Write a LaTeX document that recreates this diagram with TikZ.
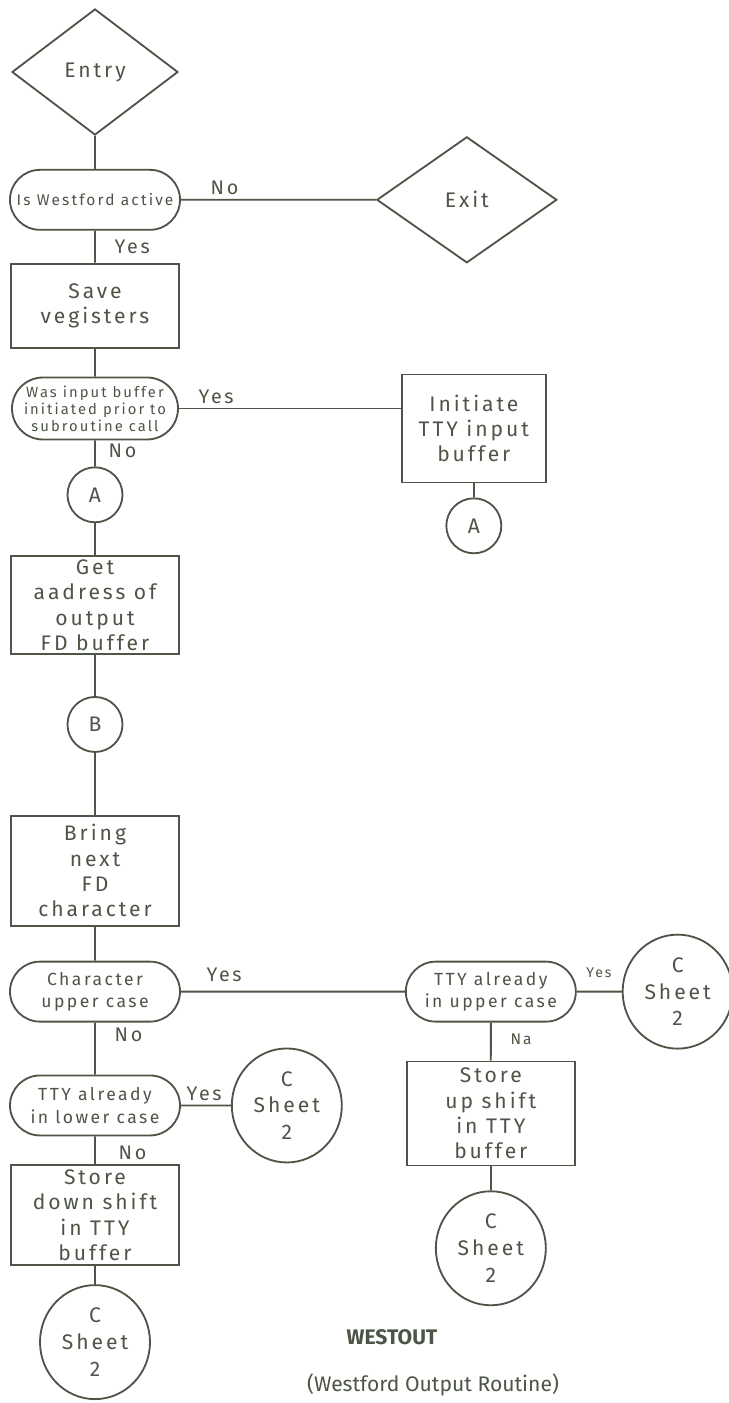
\documentclass[tikz,border=0pt]{standalone}
\usepackage{fontspec}
\setmainfont{Fira Sans}
\newfontfamily\handfont{Fira Sans}[LetterSpace=14]
\usetikzlibrary{positioning, shapes.geometric, shapes.misc}
\definecolor{Ink}{HTML}{4D5546}
\tikzset{
  procbox/.style={rectangle, draw=Ink, line width=1.3pt, minimum width=4.2cm,
                  font=\handfont\fontsize{15}{18}\selectfont, text=Ink, align=center, inner sep=0pt},
  askbox/.style={rounded rectangle, draw=Ink, line width=1.3pt, minimum width=4.25cm,
                 minimum height=1.5cm, font=\handfont\fontsize{12.5}{16}\selectfont, text=Ink,
                 align=center, inner sep=0pt},
  endbox/.style={diamond, draw=Ink, line width=1.3pt, minimum width=4.15cm, minimum height=3.15cm,
                 font=\handfont\fontsize{15}{18}\selectfont, text=Ink, inner sep=0pt},
  joint/.style={circle, draw=Ink, line width=1.3pt, minimum size=1.375cm, inner sep=0pt,
                font=\handfont\fontsize{15}{18}\selectfont, text=Ink},
  sheetjoint/.style={ellipse, draw=Ink, line width=1.3pt, minimum width=2.75cm, minimum height=2.85cm,
                     inner sep=0pt, align=center, font=\handfont\fontsize{15}{19}\selectfont, text=Ink},
  tag/.style={font=\handfont\fontsize{14}{16}\selectfont, text=Ink, inner sep=1pt},
}

\begin{document}
\begin{tikzpicture}[
        link/.style={draw=Ink, line width=1.3pt}
      ]
        \useasboundingbox (0,0) rectangle (18.2,-35.075);
        % main column
        \node[endbox] (entry) at (2.375,-1.8) {Entry};
        \node[askbox, font=\handfont\fontsize{11}{14}\selectfont, below=0.825cm of entry] (active) {Is Westford active};
        \node[procbox, minimum height=2.1cm, below=0.8cm of active] (save) {Save\\vegisters};
        \node[askbox, font=\handfont\fontsize{10.5}{12}\selectfont, minimum width=4.15cm, minimum height=1.55cm,
              below=0.7cm of save] (wasinit) {Was input buffer\\initiated prior to\\subroutine call};
        \node[joint, below=0.65cm of wasinit] (conA) {A};
        \node[procbox, minimum height=2.45cm, below=0.8cm of conA] (getaddr) {Get\\aadress of\\output\\FD buffer};
        \node[joint, below=1.025cm of getaddr] (conB) {B};
        \node[procbox, minimum height=2.75cm, below=1.55cm of conB] (bring) {Bring\\next\\FD\\character};
        \node[askbox, below=0.85cm of bring] (upper) {Character\\upper case};
        \node[askbox, below=1.3cm of upper] (lower) {TTY already\\in lower case};
        \node[procbox, minimum height=2.5cm, below=0.7cm of lower] (storedown) {Store\\down shift\\in TTY\\buffer};
        \node[sheetjoint, below=0.45cm of storedown] (sheetD) {C\\Sheet\\2};
        % side branches
        \node[endbox, minimum width=4.5cm, right=4.875cm of active] (exit) {Exit};
        \node[procbox, minimum width=3.6cm, minimum height=2.7cm, right=5.55cm of wasinit, yshift=-0.5cm] (initiate)
             {Initiate\\TTY input\\buffer};
        \node[joint, below=0.35cm of initiate] (conA2) {A};
        \node[askbox, right=5.6cm of upper] (upper2) {TTY already\\in upper case};
        \node[sheetjoint, right=1.125cm of upper2] (sheetA) {C\\Sheet\\2};
        \node[sheetjoint, right=1.25cm of lower] (sheetB) {C\\Sheet\\2};
        \node[procbox, minimum height=2.6cm, below=0.95cm of upper2] (storeup) {Store\\up shift\\in TTY\\buffer};
        \node[sheetjoint, below=0.6cm of storeup] (sheetC) {C\\Sheet\\2};
        % branch labels
        \node[tag, anchor=south west] (noexit) at ([xshift=0.7cm,yshift=0.08cm]active.east) {No};
        \node[tag, anchor=north west] (yessave) at ([xshift=0.45cm,yshift=-0.2cm]active.south) {Yes};
        \node[tag, anchor=south west] (yesinit) at ([xshift=0.45cm,yshift=0.08cm]wasinit.east) {Yes};
        \node[tag, anchor=north west] (noinit) at ([xshift=0.3cm,yshift=-0.05cm]wasinit.south) {No};
        \node[tag, anchor=south west] (yesupper) at ([xshift=0.6cm,yshift=0.2cm]upper.east) {Yes};
        \node[tag, anchor=north west] (noupper) at ([xshift=0.45cm,yshift=-0.1cm]upper.south) {No};
        \node[tag, font=\handfont\fontsize{10}{12}\selectfont, anchor=south west] (yesup2) at ([xshift=0.2cm,yshift=0.3cm]upper2.east) {Yes};
        \node[tag, font=\handfont\fontsize{11}{12}\selectfont, anchor=north west] (noup2) at ([xshift=0.45cm,yshift=-0.25cm]upper2.south) {Na};
        \node[tag, anchor=south west] (yeslower) at ([xshift=0.1cm,yshift=0.08cm]lower.east) {Yes};
        \node[tag, anchor=north west] (nolower) at ([xshift=0.55cm,yshift=-0.2cm]lower.south) {No};
        % title
        \node[tag, font=\fontsize{15}{18}\selectfont\bfseries] (title) at (9.8,-33.425) {WESTOUT};
        \node[tag, font=\fontsize{15}{18}\selectfont] (subtitle) at (10.825,-34.625) {(Westford Output Routine)};
        % connectors
        \draw[link] (entry) -- (active);
        \draw[link] (active) -- (save);
        \draw[link] (active) -- (exit);
        \draw[link] (save) -- (wasinit);
        \draw[link] (wasinit) -- (conA);
        \draw[link] (wasinit.east) -- (wasinit.east -| initiate.west);
        \draw[link] (initiate) -- (conA2);
        \draw[link] (conA) -- (getaddr);
        \draw[link] (getaddr) -- (conB);
        \draw[link] (conB) -- (bring);
        \draw[link] (bring) -- (upper);
        \draw[link] (upper) -- (upper2);
        \draw[link] (upper2) -- (sheetA);
        \draw[link] (upper2) -- (storeup);
        \draw[link] (storeup) -- (sheetC);
        \draw[link] (upper) -- (lower);
        \draw[link] (lower) -- (sheetB);
        \draw[link] (lower) -- (storedown);
        \draw[link] (storedown) -- (sheetD);
      \end{tikzpicture}
\end{document}
